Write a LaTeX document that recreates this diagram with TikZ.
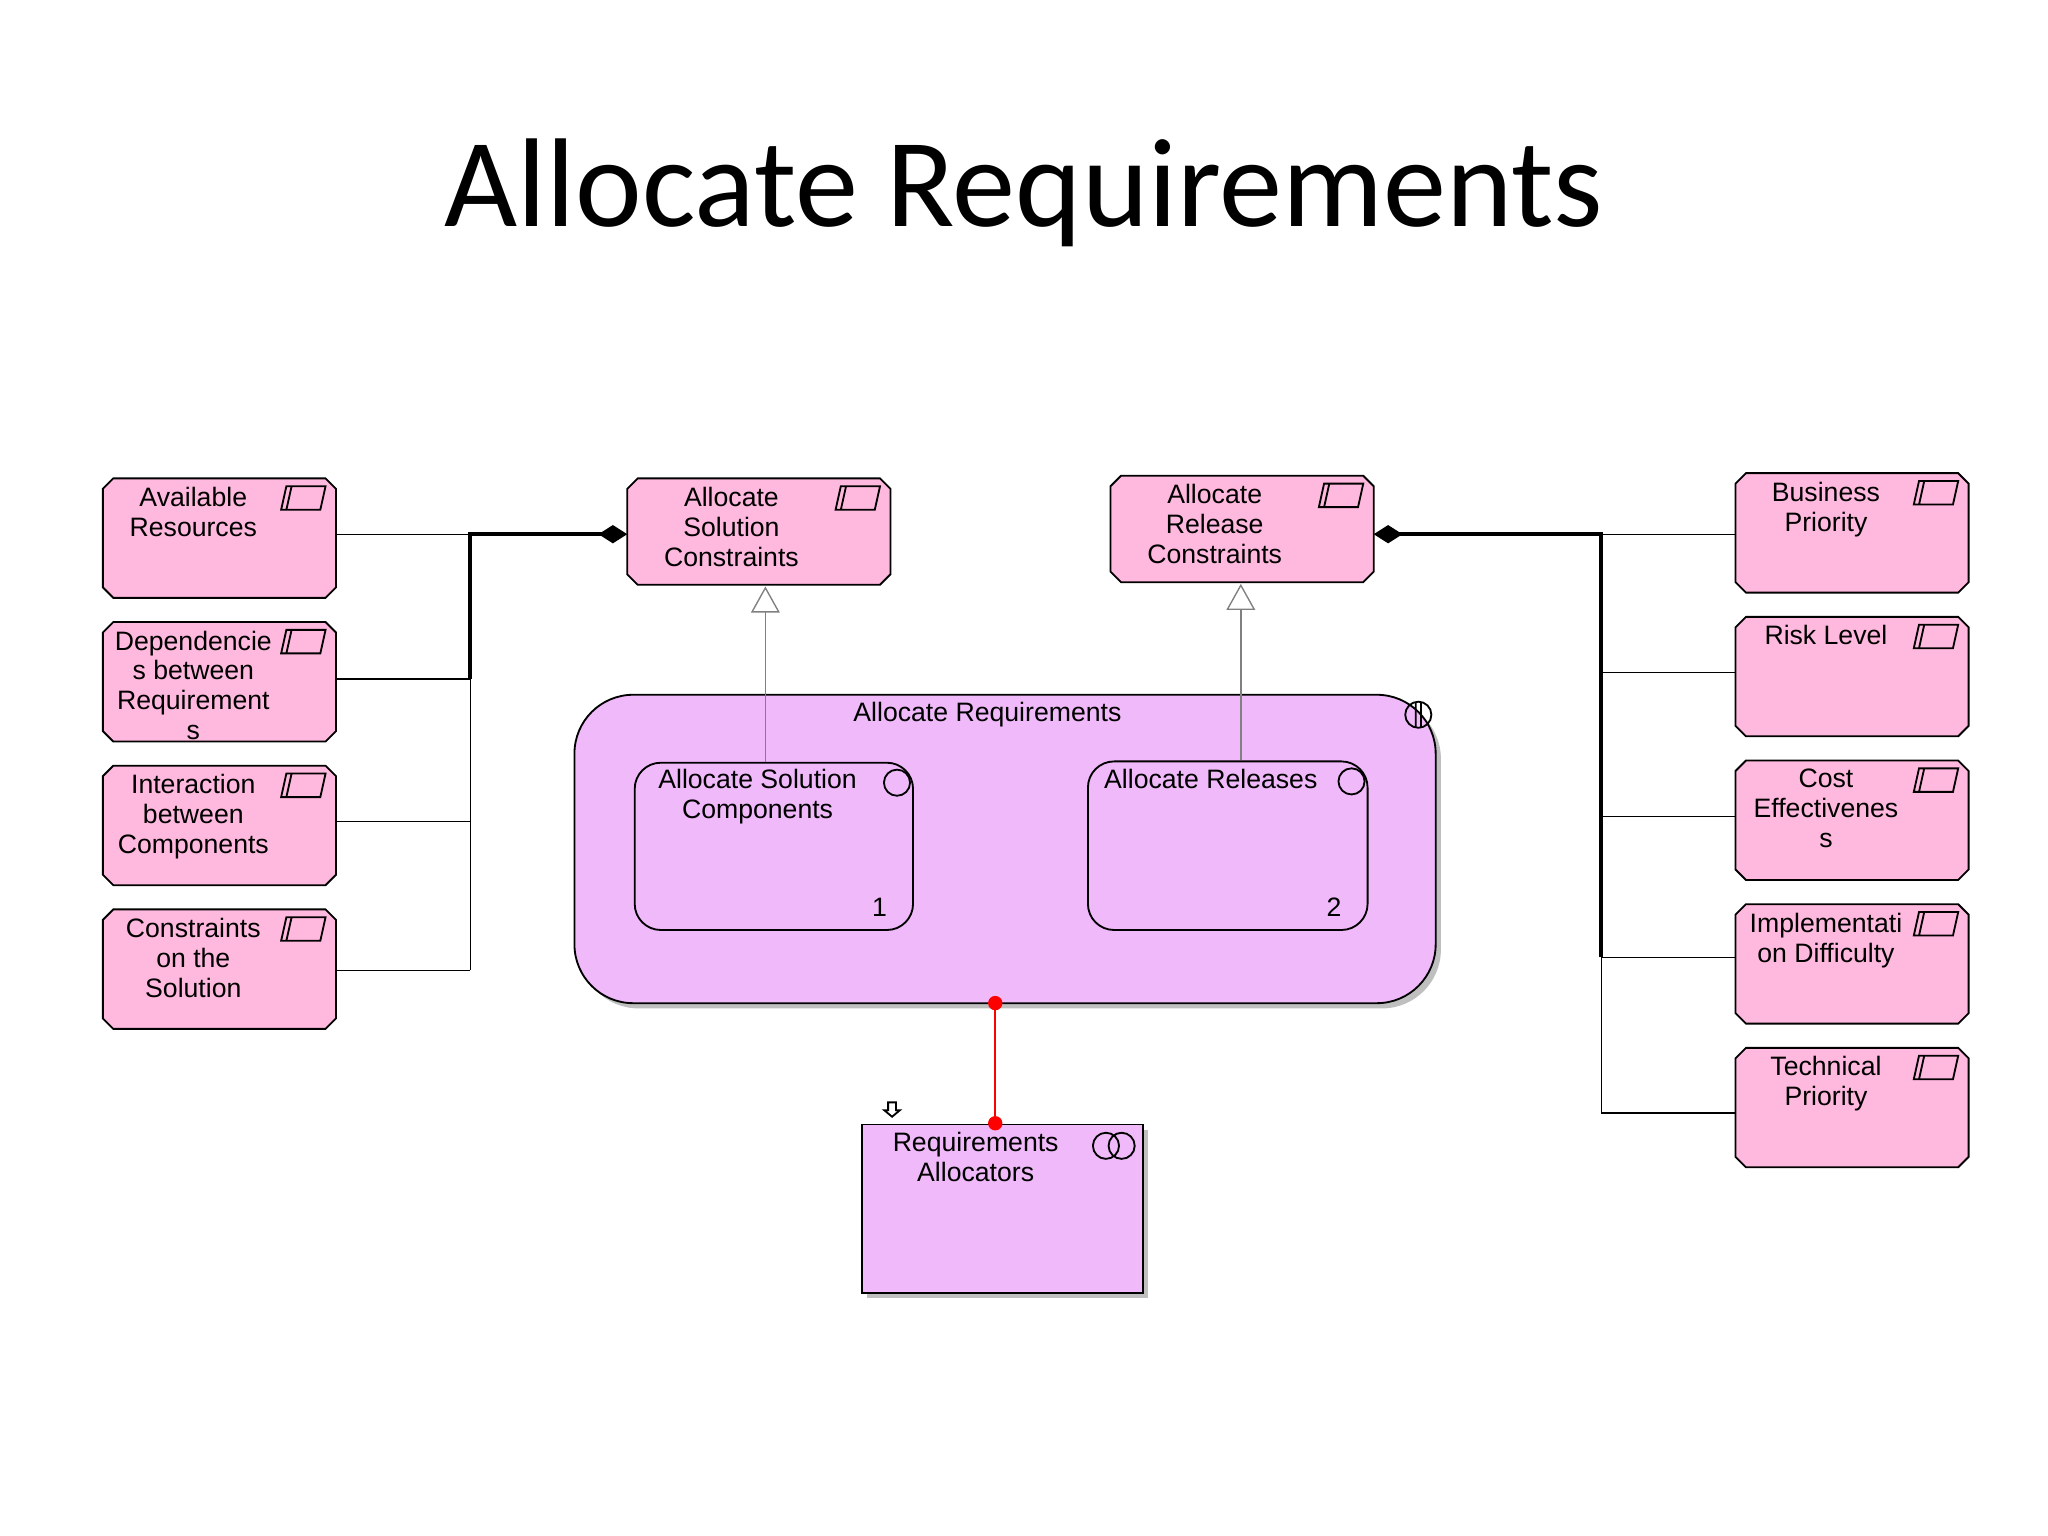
\documentclass[tikz,border=0pt]{standalone}
\usepackage{fontspec}
\setmainfont{Liberation Sans}
\newfontfamily\titlefont{Carlito}
\usetikzlibrary{shadows,arrows.meta}
\definecolor{objpink}{RGB}{255,185,222}
\definecolor{actlilac}{RGB}{240,185,250}
% chamfered object box drawn round a named node
\newcommand\octpath[1]{([xshift=0.08cm]#1.north west) -- ([xshift=-0.08cm]#1.north east)
    -- ([yshift=-0.08cm]#1.north east) -- ([yshift=0.08cm]#1.south east) -- ([xshift=-0.08cm]#1.south east)
    -- ([xshift=0.08cm]#1.south west) -- ([yshift=0.08cm]#1.south west) -- ([yshift=-0.08cm]#1.north west) -- cycle}
\newcommand\objoutline[1]{%
    \begin{scope}[shift={(4,4)}]\fill[gray!50] \octpath{#1};\end{scope}
    \draw[fill=objpink] \octpath{#1};
    \draw ([shift={(-38,6)}]#1.north east) -- ++(30,0) -- ++(-4,18) -- ++(-30,0) -- cycle
        ([shift={(-34,6)}]#1.north east) -- ++(-4,18);}
\begin{document}
\begin{tikzpicture}[x=0.01cm,y=-0.01cm,
        box/.style={minimum width=1.77cm,minimum height=0.9cm,inner sep=0pt},
        act/.style={rounded corners=#1,draw,fill=actlilac,inner sep=0pt,
            drop shadow={shadow xshift=0.04cm,shadow yshift=-0.04cm,fill=gray!50,opacity=1}},
        sub/.style={rounded corners=0.2cm,draw,fill=actlilac,inner sep=0pt},
        txt/.style={align=center,anchor=north,inner sep=0pt,font=\fontsize{5.8}{6.5}\selectfont},
        wire/.style={draw,line width=0.3pt},
        bold/.style={draw,line width=0.9pt},
        gen/.style={draw=gray,line width=0.3pt,-{Triangle[open,length=0.2cm,width=0.22cm,fill=white]}},
        comp/.style={bold,-{Diamond[length=0.22cm,width=0.14cm]}}]
    \useasboundingbox (0,0) rectangle (1568,1176);
    \node[font=\titlefont\fontsize{27.5}{30}\selectfont] (title) at (784,148) {Allocate Requirements};
    % objects on the left
    \foreach \name/\y/\t in {res/412/{Available\\Resources},
            dep/522/{Dependencie\\s between\\Requirement\\s},
            inter/632/{Interaction\\between\\Components},
            cons/742/{Constraints\\on the\\Solution}}{
        \node[box] (\name) at (168,\y) {};
        \objoutline{\name}
        \node[txt] (\name t) at ([shift={(-20,6)}]\name.north) {\t};
    }
    % objects on the right
    \foreach \name/\y/\t in {bus/408/{Business\\Priority},risk/518/{Risk Level},
            cost/628/{Cost\\Effectivenes\\s},impl/738/{Implementati\\on Difficulty},
            tech/848/{Technical\\Priority}}{
        \node[box] (\name) at (1418,\y) {};
        \objoutline{\name}
        \node[txt] (\name t) at ([shift={(-20,6)}]\name.north) {\t};
    }
    % constraint objects
    \node[box,minimum width=2cm,minimum height=0.8cm] (solc) at (581,407) {};
    \node[box,minimum width=2cm,minimum height=0.8cm] (relc) at (951,405) {};
    \objoutline{solc}
    \objoutline{relc}
    \node[txt] (solct) at ([shift={(-21,6)}]solc.north) {Allocate\\Solution\\Constraints};
    \node[txt] (relct) at ([shift={(-21,6)}]relc.north) {Allocate\\Release\\Constraints};
    % activity and its steps
    \node[act=0.45cm,minimum width=6.59cm,minimum height=2.36cm] (alloc) at (769.5,650) {};
    \node[txt] (alloct) at (756,537) {Allocate Requirements};
    \draw ([shift={(-14,16)}]alloc.north east) circle (10) ([shift={(-16,6)}]alloc.north east) -- ++(0,20)
        ([shift={(-12,6)}]alloc.north east) -- ++(0,20);
    \node[sub,minimum width=2.13cm,minimum height=1.28cm] (step1) at (592.5,648) {};
    \node[txt] (step1t) at (580,588) {Allocate Solution\\Components};
    \node[txt,anchor=south east] (n1) at ([shift={(-20,-10)}]step1.south east) {1};
    \node[sub,minimum width=2.14cm,minimum height=1.29cm] (step2) at (940,647.5) {};
    \node[txt] (step2t) at (927,588) {Allocate Releases};
    \node[txt,anchor=south east] (n2) at ([shift={(-20,-10)}]step2.south east) {2};
    \foreach \name in {step1,step2}
        \draw ([shift={(-13,16)}]\name.north east) circle (10);
    % performer
    \node[draw,fill=actlilac,minimum width=2.15cm,minimum height=1.29cm,inner sep=0pt,
        drop shadow={shadow xshift=0.04cm,shadow yshift=-0.04cm,fill=gray!50,opacity=1}] (perf) at (767.5,925.5) {};
    \node[txt] (perft) at (747,866) {Requirements\\Allocators};
    \draw ([shift={(-29,17)}]perf.north east) circle (10) ([shift={(-17,17)}]perf.north east) circle (10);
    \draw (680,844) -- (686,844) -- (686,850) -- (689,850) -- (683,855) -- (677,850) -- (680,850) -- cycle;
    % connectors
    \coordinate (lb1) at (360,409);
    \coordinate (lb2) at (360,520);
    \coordinate (lb3) at (360,629);
    \coordinate (lb4) at (360,743);
    \draw[wire] (res.east |- lb1) -- (lb1) (dep.east |- lb2) -- (lb2)
        (inter.east |- lb3) -- (lb3) (cons.east |- lb4) -- (lb4) (lb2) -- (lb4);
    \draw[comp] (lb2) -- (lb1) -- (solc.west |- lb1);
    \coordinate (rb1) at (1226,409);
    \coordinate (rb2) at (1226,515);
    \coordinate (rb3) at (1226,625);
    \coordinate (rb4) at (1226,733);
    \coordinate (rb5) at (1226,852);
    \draw[wire] (bus.west |- rb1) -- (rb1) (risk.west |- rb2) -- (rb2) (cost.west |- rb3) -- (rb3)
        (impl.west |- rb4) -- (rb4) (tech.west |- rb5) -- (rb5) (rb4) -- (rb5);
    \draw[comp] (rb4) -- (rb1) -- (relc.east |- rb1);
    \draw[gen] (step1.north -| 586,0) -- (586,449);
    \draw[gen] (step2.north -| 950,0) -- (950,447);
    \draw[red,line width=0.5pt] (762,768) coordinate (d1) -- (762,860) coordinate (d2);
    \fill[red] (d1) circle (5.5) (d2) circle (5.5);
\end{tikzpicture}
\end{document}
